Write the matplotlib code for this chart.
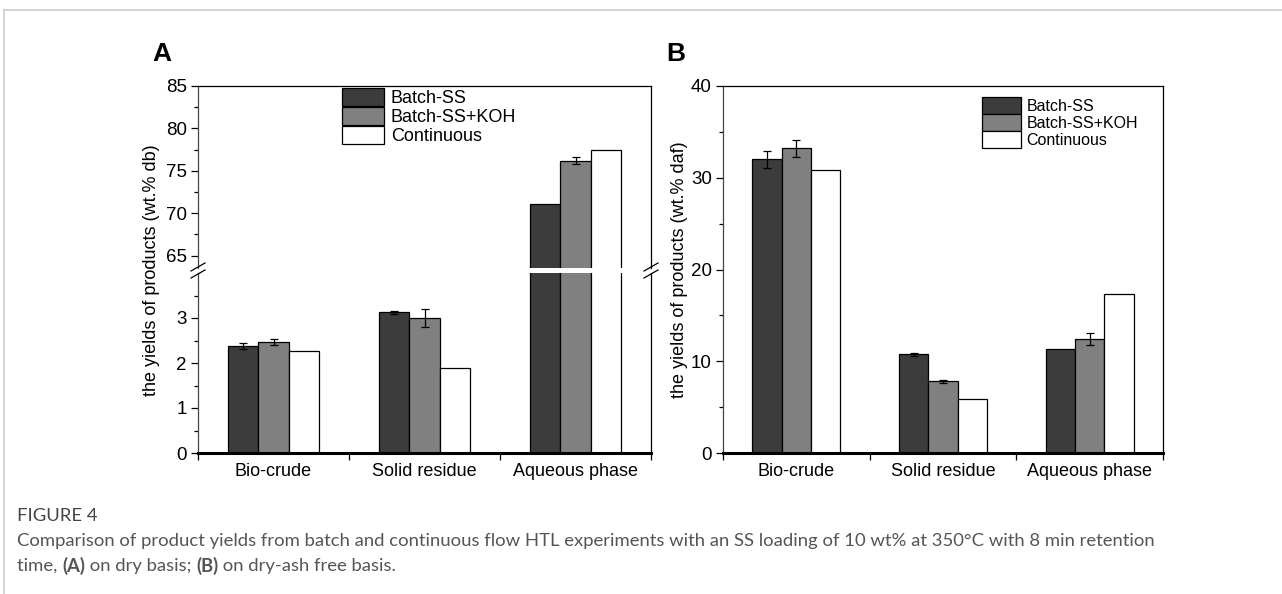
import numpy as np
import matplotlib
matplotlib.use('Agg')
import matplotlib.pyplot as plt
from matplotlib.lines import Line2D

plt.rcParams['font.family'] = ['Liberation Sans', 'DejaVu Sans']

categories = ['Bio-crude', 'Solid residue', 'Aqueous phase']
series = ['Batch-SS', 'Batch-SS+KOH', 'Continuous']
colors = ['#3c3c3c', '#808080', '#ffffff']

# panel A, dry basis (wt.% db)
db_batch = [2.38, 3.13, 71.1]
db_batch_err = [0.07, 0.03, np.nan]
db_koh = [2.46, 3.01, 76.2]
db_koh_err = [0.07, 0.20, 0.4]
db_cont = [2.27, 1.90, 77.5]

# panel B, dry-ash free basis (wt.% daf)
daf_batch = [32.0, 10.75, 11.3]
daf_batch_err = [0.9, 0.15, np.nan]
daf_koh = [33.2, 7.8, 12.4]
daf_koh_err = [0.9, 0.2, 0.65]
daf_cont = [30.85, 5.9, 17.3]

W, H = 1282, 594
fig = plt.figure(figsize=(W / 100, H / 100), dpi=100)


def box(x0, y0, x1, y1):
    # pixel box (top-left origin) -> figure fraction rect
    return [x0 / W, 1 - y1 / H, (x1 - x0) / W, (y1 - y0) / H]


ax_top = fig.add_axes(box(198, 86, 651, 268))
ax_bot = fig.add_axes(box(198, 273, 651, 453))
ax_b = fig.add_axes(box(723, 86, 1163, 453))

x = np.arange(len(categories))
bw = 0.2
offsets = [-bw, 0, bw]


def draw_bars(ax, vals, errs):
    handles = []
    for i, (v, e) in enumerate(zip(vals, errs)):
        h = ax.bar(x + offsets[i], v, bw, color=colors[i], edgecolor='black',
                   linewidth=0.9, label=series[i], zorder=2)
        handles.append(h)
        if e is not None:
            ax.errorbar(x + offsets[i], v, yerr=e, fmt='none', ecolor='black',
                        elinewidth=0.9, capsize=3, capthick=0.9, zorder=3)
    return handles


for ax in (ax_top, ax_bot):
    hA = draw_bars(ax, [db_batch, db_koh, db_cont],
                   [db_batch_err, db_koh_err, None])
hB = draw_bars(ax_b, [daf_batch, daf_koh, daf_cont],
               [daf_batch_err, daf_koh_err, None])

ax_top.set_ylim(63.55, 85)
ax_bot.set_ylim(0, 4.0)
ax_b.set_ylim(0, 40)

ax_top.set_yticks([65, 70, 75, 80, 85])
ax_top.set_yticks(np.arange(65, 85, 2.5), minor=True)
ax_bot.set_yticks([0, 1, 2, 3])
ax_bot.set_yticks(np.arange(0, 4, 0.5), minor=True)
ax_b.set_yticks([0, 10, 20, 30, 40])
ax_b.set_yticks(np.arange(0, 40, 5), minor=True)

for ax in (ax_top, ax_bot, ax_b):
    ax.set_xlim(-0.5, 2.5)
    ax.tick_params(axis='y', which='major', direction='out', length=5,
                   width=0.9, labelsize=13.5, pad=3)
    ax.tick_params(axis='y', which='minor', direction='out', length=3,
                   width=0.9)
    for s in ax.spines.values():
        s.set_linewidth(0.9)
        s.set_color('black')
    ax.spines['left'].set_color('#444444')

for ax in (ax_bot, ax_b):
    ax.set_xticks([-0.5, 0.5, 1.5, 2.5])
    ax.set_xticklabels([])
    ax.set_xticks(x, minor=True)
    ax.set_xticklabels(categories, minor=True)
    ax.tick_params(axis='x', which='major', direction='out', length=5,
                   width=0.9)
    ax.tick_params(axis='x', which='minor', length=0, labelsize=13, pad=7)
    ax.spines['bottom'].set_linewidth(2.2)

ax_top.set_xticks([])
ax_top.spines['bottom'].set_visible(False)
ax_bot.spines['top'].set_visible(False)


# break marks on panel A spines
def slash(xc, yc):
    dx, dy = 7, 4
    for off in (-3.5, 3.5):
        fig.add_artist(Line2D([(xc - dx) / W, (xc + dx) / W],
                              [1 - (yc + off + dy) / H, 1 - (yc + off - dy) / H],
                              color='black', linewidth=0.9))


slash(198, 270.5)
slash(651, 270.5)

fig.text(152 / W, 1 - 270 / H, 'the yields of products (wt.% db)',
         rotation=90, ha='center', va='center', fontsize=13)
fig.text(680 / W, 1 - 270 / H, 'the yields of products (wt.% daf)',
         rotation=90, ha='center', va='center', fontsize=13)

fig.text(152 / W, 1 - 54 / H, 'A', fontsize=19, fontweight='bold',
         ha='left', va='center')
fig.text(666 / W, 1 - 54 / H, 'B', fontsize=19, fontweight='bold',
         ha='left', va='center')

fig.legend(handles=hA, labels=series, loc='upper left',
           bbox_to_anchor=(342 / W, 1 - 88 / H), frameon=False,
           fontsize=13, handlelength=2.35, handleheight=1.15,
           labelspacing=0.0, handletextpad=0.35, borderpad=0,
           borderaxespad=0)
fig.legend(handles=hB, labels=series, loc='upper left',
           bbox_to_anchor=(982 / W, 1 - 97 / H), frameon=False,
           fontsize=11.5, handlelength=2.45, handleheight=1.25,
           labelspacing=0.0, handletextpad=0.35, borderpad=0,
           borderaxespad=0)

# card frame
fig.add_artist(Line2D([4 / W, 1], [1 - 9.5 / H, 1 - 9.5 / H],
                      color='#cccccc', linewidth=1.2))
fig.add_artist(Line2D([4 / W, 4 / W], [0, 1 - 9.5 / H],
                      color='#cccccc', linewidth=1.2))

# caption
cap_fs = 13.3
fig.text(17 / W, 1 - 516 / H, 'FIGURE 4', fontsize=cap_fs, color='#444444',
         family='Lato', va='center')
fig.text(17 / W, 1 - 541 / H,
         'Comparison of product yields from batch and continuous flow HTL '
         'experiments with an SS loading of 10 wt% at 350°C with 8 min retention',
         fontsize=cap_fs, color='#555555', family='Lato', va='center')

renderer = fig.canvas.get_renderer()
xpos = 17
for txt, wt in [('time, ', 'normal'), ('(A)', 'bold'),
                (' on dry basis; ', 'normal'), ('(B)', 'bold'),
                (' on dry-ash free basis.', 'normal')]:
    t = fig.text(xpos / W, 1 - 566 / H, txt, fontsize=cap_fs,
                 color='#555555', family='Lato', fontweight=wt, va='center')
    xpos += t.get_window_extent(renderer).width

fig.savefig('out.png', dpi=100)
